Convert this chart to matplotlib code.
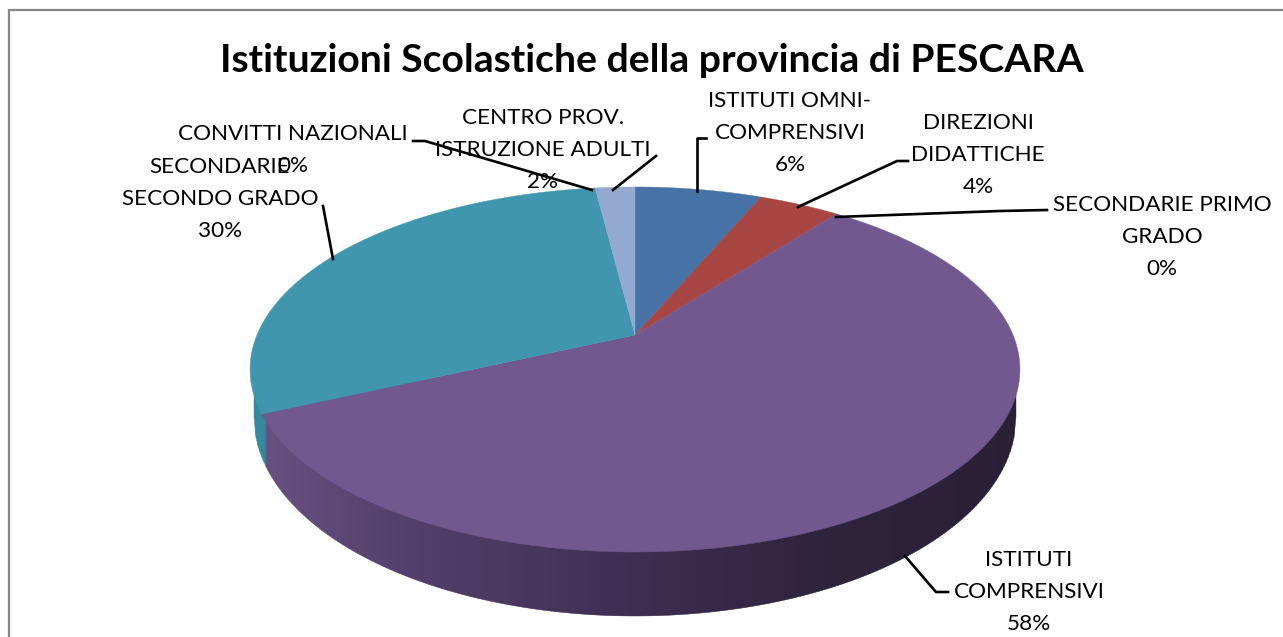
import numpy as np
import matplotlib
matplotlib.use("Agg")
import matplotlib.pyplot as plt
from matplotlib.patches import Polygon
from matplotlib.collections import PolyCollection

#Data, clockwise from 12 o'clock
labels = ["ISTITUTI OMNI-\nCOMPRENSIVI", "DIREZIONI\nDIDATTICHE", "SECONDARIE PRIMO\nGRADO",
          "ISTITUTI\nCOMPRENSIVI", "SECONDARIE\nSECONDO GRADO", "CONVITTI NAZIONALI", "CENTRO PROV.\nISTRUZIONE ADULTI"]
values = [6.4, 4.1, 0, 57.7, 29.8, 0, 2.0]
colors = ["#4672A5", "#A84644", "#89A54E", "#71588F", "#4096AE", "#DB843D", "#93A9CF"]
title = "Istituzioni Scolastiche della provincia di PESCARA"

#Label centres and leader lines, in image pixels
label_pos = [(790, 133), (978, 155), (1162, 237), (1029, 592), (220, 199), (293, 150), (543, 150)]
leaders = [
    [(706, 138), (697, 138), (697, 191)],
    [(908, 161), (897, 161), (798, 207)],
    [(1047, 210), (1000, 211), (836, 217)],
    [(948, 592), (936, 592), (905, 556)],
    [(323, 206), (333, 259)],
    [(413, 141), (425, 141), (592, 190)],
    [(656, 156), (613, 190)],
]

#Perspective of the top face
CX, CY = 635, 370
A, B, C, K = 378, 182.6, 35, 0.189
#Lower rim of the side wall
LOW_CY, LOW_RX, LOW_RY = 417, 381, 199
#Wall shade going left to right
wall_x = [255, 400, 635, 850, 1020]
wall_r = [104, 84, 62, 44, 42]
wall_g = [82, 64, 46, 34, 32]
wall_b = [130, 108, 82, 58, 54]
WALL_TEAL = "#37889E"


def top_face(share):
    #share is the clockwise fraction of the circle from 12 o'clock
    t = 2 * np.pi * np.asarray(share)
    x, y = np.sin(t), np.cos(t)
    d = 1 + K * y
    return CX + A * x / d, CY - (B * y + C) / d


plt.rcParams["font.family"] = ["Lato", "DejaVu Sans"]
fig = plt.figure(figsize=(12.83, 6.37), dpi=100)
ax = fig.add_axes([0, 0, 1, 1])
ax.set_xlim(0, 1283)
ax.set_ylim(637, 0)
ax.axis("off")

#Chart frame
ax.plot([8.5, 8.5, 1283], [637, 10, 10], color="#868686", lw=1.6, solid_joinstyle="miter")

#Side wall as thin vertical strips
cum = np.cumsum(values) / np.sum(values)
teal_edge = top_face(cum[3])[0] + 5
xs = np.arange(CX - LOW_RX, CX + LOW_RX, 2.0)
strips = []
strip_cols = []
for x0 in xs:
    x1 = x0 + 2.0
    y0 = LOW_CY + LOW_RY * np.sqrt(max(0, 1 - ((x0 - CX) / LOW_RX) ** 2))
    y1 = LOW_CY + LOW_RY * np.sqrt(max(0, 1 - ((x1 - CX) / LOW_RX) ** 2))
    strips.append([(x0, 380), (x1, 380), (x1, y1), (x0, y0)])
    if x1 < teal_edge:
        strip_cols.append(WALL_TEAL)
    else:
        mid = (x0 + x1) / 2
        strip_cols.append((np.interp(mid, wall_x, wall_r) / 255,
                           np.interp(mid, wall_x, wall_g) / 255,
                           np.interp(mid, wall_x, wall_b) / 255))
ax.add_collection(PolyCollection(strips, facecolors=strip_cols, edgecolors=strip_cols, linewidths=0.3, zorder=2))

#Top face slices
start = 0
for val, col in zip(values, colors):
    share = val / np.sum(values)
    if share > 0:
        s = np.linspace(start, start + share, max(3, int(share * 720)))
        px, py = top_face(s)
        pts = [(CX, CY - C)] + list(zip(px, py))
        ax.add_patch(Polygon(pts, closed=True, facecolor=col, edgecolor=col, lw=0.3, zorder=3))
    start += share

#Leader lines
for line in leaders:
    ax.plot([p[0] for p in line], [p[1] for p in line], color="black", lw=1.9, zorder=4)

#Labels with percent on the last line
for lab, val, pos in zip(labels, values, label_pos):
    ax.text(pos[0], pos[1], "%s\n%d%%" % (lab, round(val)), ha="center", va="center", fontsize=16.2,
            linespacing=1.72, color="black", zorder=5)

ax.text(652, 60, title, ha="center", va="center", fontsize=28.2, fontweight="bold", color="black", zorder=5)

fig.savefig("out.png", dpi=100)
